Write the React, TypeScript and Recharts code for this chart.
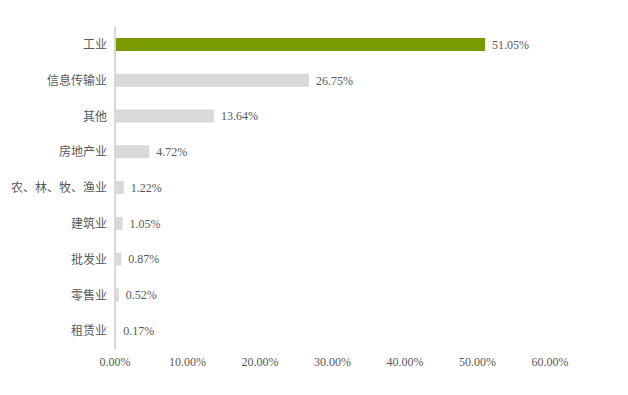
import { BarChart, Bar, XAxis, YAxis, Cell, LabelList } from "recharts";

const categories = ["工业", "信息传输业", "其他", "房地产业", "农、林、牧、渔业", "建筑业", "批发业", "零售业", "租赁业"];
const shares = [51.05, 26.75, 13.64, 4.72, 1.22, 1.05, 0.87, 0.52, 0.17];
const xTicks = [0, 10, 20, 30, 40, 50, 60];

const HIGHLIGHT = "#7a9a01";
const MUTED = "#d9d9d9";
const FONT = "'Liberation Serif', 'Noto Sans CJK SC', serif";

const data = categories.map((name, i) => ({ name, value: shares[i] }));

const pct = (v: number) => `${Number(v).toFixed(2)}%`;

export default function App(): React.ReactElement {
  return (
    <div style={{ position: "absolute", left: 0, top: 0, background: "#fff" }}>
      <BarChart
        width={628}
        height={395}
        data={data}
        layout="vertical"
        margin={{ top: 27, right: 78, bottom: 16, left: 0 }}
        barCategoryGap={0}
      >
        <XAxis
          type="number"
          domain={[0, 60]}
          ticks={xTicks}
          tickFormatter={pct}
          axisLine={false}
          tickLine={false}
          height={30}
          tickMargin={2}
          tick={{ fill: "#595959", fontSize: 12, fontFamily: FONT }}
        />
        <YAxis
          type="category"
          dataKey="name"
          width={115}
          axisLine={{ stroke: MUTED, strokeWidth: 2 }}
          tickLine={false}
          tickMargin={2}
          tick={{ fill: "#595959", fontSize: 12, fontFamily: FONT }}
        />
        <Bar dataKey="value" barSize={13} isAnimationActive={false}>
          {data.map((d, i) => (
            <Cell key={d.name} fill={i === 0 ? HIGHLIGHT : MUTED} />
          ))}
          <LabelList
            dataKey="value"
            position="right"
            offset={7}
            formatter={(v: any) => pct(v)}
            style={{ fill: "#595959", fontSize: 12, fontFamily: FONT }}
          />
        </Bar>
      </BarChart>
    </div>
  );
}
